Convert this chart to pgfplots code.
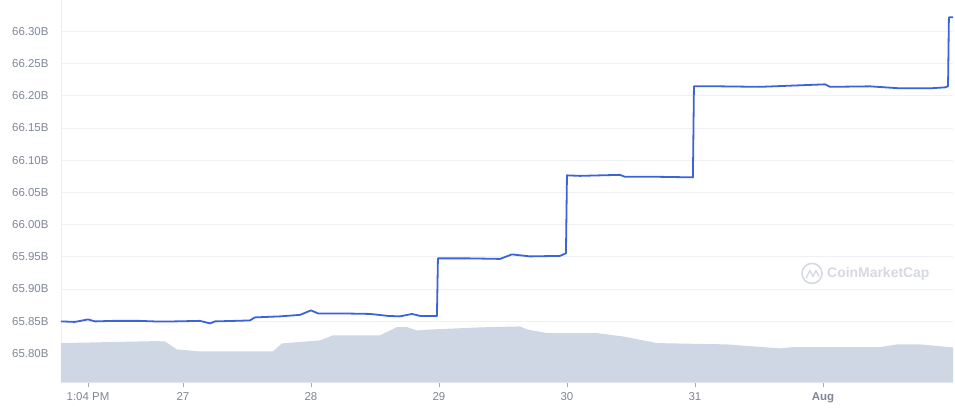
\documentclass[border=0pt]{standalone}
\usepackage{pgfplots}
\pgfplotsset{compat=1.18}
\usepackage{fontspec}
\setmainfont{Liberation Sans}
\definecolor{cmcblue}{RGB}{60,100,216}
\definecolor{volfill}{RGB}{207,214,228}
\definecolor{labgray}{RGB}{128,134,150}
\definecolor{gridgray}{RGB}{238,240,244}
\definecolor{wmgray}{RGB}{214,217,224}
\begin{document}
\begin{tikzpicture}
\begin{axis}[
  at={(0,0)}, anchor=south west,
  scale only axis, width=892bp, height=382bp,
  xmin=-0.953, xmax=6.016,
  ymin=65.755, ymax=66.348,
  xtick={-0.742,0,1,2,3,4,5},
  xticklabels={1:04 PM,27,28,29,30,31,\textbf{Aug}},
  ytick={65.80,65.85,65.90,65.95,66.00,66.05,66.10,66.15,66.20,66.25,66.30},
  yticklabels={65.80B,65.85B,65.90B,65.95B,66.00B,66.05B,66.10B,66.15B,66.20B,66.25B,66.30B},
  ymajorgrids, grid style={gridgray, line width=0.8bp},
  axis lines*=left,
  axis line style={gridgray, line width=0.8bp, -},
  tick align=outside,
  ytick style={draw=none},
  xtick style={labgray!70, line width=0.6bp},
  major tick length=5bp,
  tick label style={font=\fontsize{11.5}{13}\selectfont, text=labgray},
  yticklabel style={xshift=-4bp},
  xticklabel style={yshift=-2bp},
  clip=true,
]
% volume area (background)
\addplot[fill=volfill, draw=none] coordinates {
(-0.953,65.8160) (-0.203,65.8191) (-0.141,65.8186) (-0.0469,65.8062)
(0.133,65.8031) (0.703,65.8031) (0.773,65.8155) (1.070,65.8202)
(1.172,65.8280) (1.539,65.8280) (1.672,65.8408) (1.750,65.8408)
(1.828,65.8357) (1.953,65.8373) (2.320,65.8404) (2.633,65.8419)
(2.688,65.8373) (2.844,65.8315) (3.234,65.8315) (3.437,65.8264)
(3.703,65.8160) (4.250,65.8140) (4.664,65.8078) (4.766,65.8098)
(5.445,65.8098) (5.578,65.8140) (5.758,65.8140) (6.016,65.8093)
} \closedcycle;
% market cap line
\addplot[cmcblue, line width=1.8bp, line join=round] coordinates {
(-0.953,65.8497) (-0.844,65.8489) (-0.742,65.8528) (-0.6875,65.8497)
(-0.55,65.8505) (-0.336,65.8505) (-0.20,65.8495) (-0.0625,65.8497)
(0.133,65.8505) (0.211,65.8466) (0.25,65.8497) (0.40,65.8505)
(0.523,65.8512) (0.5625,65.8559) (0.758,65.8575) (0.914,65.8598)
(1.0,65.8668) (1.055,65.8621) (1.227,65.8621) (1.461,65.8613)
(1.602,65.8582) (1.695,65.8575) (1.789,65.8613) (1.852,65.8582)
(1.984,65.8582) (1.992,65.9475) (2.242,65.9475) (2.477,65.9467)
(2.570,65.9537) (2.711,65.9506) (2.945,65.9514) (2.992,65.9553)
(3.0,66.0764) (3.102,66.0756) (3.414,66.0772) (3.453,66.0741)
(3.727,66.0741) (3.984,66.0733) (3.992,66.2146) (4.195,66.2146)
(4.508,66.2138) (4.820,66.2162) (5.016,66.2177) (5.055,66.2138)
(5.367,66.2146) (5.602,66.2115) (5.836,66.2115) (5.953,66.2130)
(5.977,66.2146) (5.984,66.3217) (6.016,66.3217)
};
\end{axis}
% watermark
\draw[wmgray, line width=1.6bp] (751bp,109bp) circle (10bp);
\draw[wmgray, line width=1.4bp, line join=round] (745bp,104bp) -- (749bp,112bp) -- (752bp,106bp) -- (755bp,112bp) -- (758bp,106bp);
\node[anchor=west, text=wmgray, font=\fontsize{14}{16}\selectfont\bfseries, inner sep=0pt] at (766bp,109bp) {CoinMarketCap};
\useasboundingbox (-61bp,-25bp) rectangle (894bp,382bp);
\end{tikzpicture}
\end{document}
